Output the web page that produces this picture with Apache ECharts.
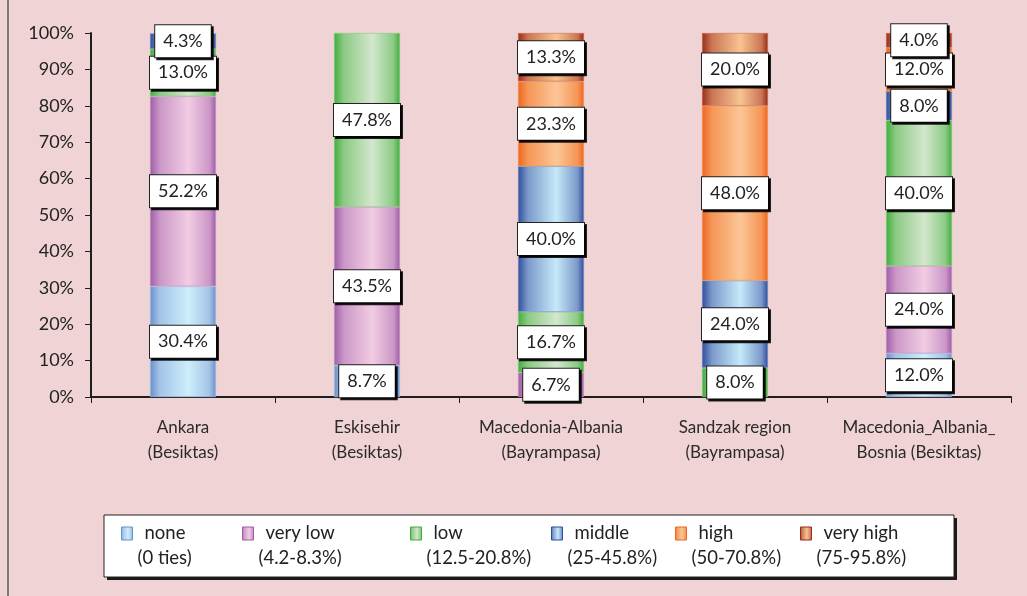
<!DOCTYPE html>
<html>
<head>
<meta charset="utf-8">
<script src="https://cdn.jsdelivr.net/npm/echarts@6/dist/echarts.min.js"></script>
<style>
html,body{margin:0;padding:0;background:#f0d3d5;}
#chart{width:1027px;height:596px;}
</style>
</head>
<body>
<div id="chart"></div>
<script>
// ---- data ----
const categories = [
  'Ankara\n(Besiktas)',
  'Eskisehir\n(Besiktas)',
  'Macedonia-Albania\n(Bayrampasa)',
  'Sandzak region\n(Bayrampasa)',
  'Macedonia_Albania_\nBosnia (Besiktas)'
];
const seriesNames = ['none', 'very low', 'low', 'middle', 'high', 'very high'];
const seriesRanges = ['(0 ties)', '(4.2-8.3%)', '(12.5-20.8%)', '(25-45.8%)', '(50-70.8%)', '(75-95.8%)'];
const none     = [30.4, 8.7, 0, 0, 12.0];
const veryLow  = [52.2, 43.5, 6.7, 0, 24.0];
const low      = [13.0, 47.8, 16.7, 8.0, 40.0];
const middle   = [4.3, 0, 40.0, 24.0, 8.0];
const high     = [0, 0, 23.3, 48.0, 12.0];
const veryHigh = [0, 0, 13.3, 20.0, 4.0];
const yTicks = [0, 10, 20, 30, 40, 50, 60, 70, 80, 90, 100];

// ---- styles ----
const seriesValues = [none, veryLow, low, middle, high, veryHigh];
const palette = [
  ['#6a8fcb', '#a3c4e7', '#cdeefb'],
  ['#9e5ea7', '#cb97c7', '#f2cce3'],
  ['#40ae3a', '#8cca85', '#d3e7cd'],
  ['#2f4c9c', '#7b99ca', '#c6e9f9'],
  ['#ee6620', '#f59656', '#fcc697'],
  ['#982c1b', '#ca7655', '#f8c391']
];
const FONT = 'Lato, Carlito, "Open Sans", sans-serif';
function grad(p) {
  return new echarts.graphic.LinearGradient(0, 0, 1, 0, [
    {offset: 0, color: p[0]},
    {offset: 0.15, color: p[1]},
    {offset: 0.58, color: p[2]},
    {offset: 0.9, color: p[1]},
    {offset: 1, color: p[0]}
  ]);
}

const chart = echarts.init(document.getElementById('chart'), null, {renderer: 'canvas'});
const legendLeft = [121, 242, 410, 551, 675, 800];

const option = {
  backgroundColor: '#f0d3d5',
  animation: false,
  grid: {left: 91, right: 16, top: 33, bottom: 199, containLabel: false},
  xAxis: {
    type: 'category',
    data: categories,
    axisLine: {show: true, lineStyle: {color: '#1e1e1e', width: 2}},
    axisTick: {show: true, length: 6, lineStyle: {color: '#1e1e1e', width: 1}},
    axisLabel: {color: '#2a2a2a', fontSize: 17, lineHeight: 25, margin: 18, fontFamily: FONT, interval: 0}
  },
  yAxis: {
    type: 'value',
    min: yTicks[0],
    max: yTicks[yTicks.length - 1],
    interval: yTicks[1] - yTicks[0],
    splitLine: {show: false},
    axisLine: {show: true, lineStyle: {color: '#1e1e1e', width: 2}},
    axisTick: {show: true, length: 6, lineStyle: {color: '#1e1e1e', width: 1}},
    axisLabel: {color: '#222', fontSize: 18, margin: 17, fontFamily: FONT, formatter: '{value}%'}
  },
  legend: seriesNames.map((n, i) => ({
    data: [n],
    left: legendLeft[i],
    top: 496,
    padding: 0,
    itemWidth: 11,
    itemHeight: 13,
    icon: 'rect',
    selectedMode: false,
    itemStyle: {borderColor: palette[i][0], borderWidth: 1},
    formatter: name => '{a|' + name + '}\n{b|' + seriesRanges[seriesNames.indexOf(name)] + '}',
    textStyle: {
      color: '#222', fontSize: 18.5, fontFamily: FONT, lineHeight: 25,
      padding: [25, 0, 0, 0],
      rich: {
        a: {fontSize: 18.5, fontFamily: FONT, color: '#222', lineHeight: 25, padding: [0, 0, 0, 7]},
        b: {fontSize: 18.5, fontFamily: FONT, color: '#222', lineHeight: 25}
      }
    }
  })),
  graphic: [
    {type: 'line', shape: {x1: 8, y1: 0, x2: 8, y2: 596}, style: {stroke: '#5a5a5a', lineWidth: 1.5}, silent: true},
    {type: 'rect', shape: {x: 107, y: 518, width: 850, height: 62}, style: {fill: '#1a1a1a'}, silent: true, z: -1},
    {type: 'rect', shape: {x: 104, y: 515, width: 850, height: 62}, style: {fill: '#ffffff', stroke: '#222', lineWidth: 1}, silent: true, z: 0}
  ],
  series: seriesNames.map((n, i) => ({
    name: n,
    type: 'bar',
    stack: 'total',
    barWidth: 66,
    data: seriesValues[i].map(v => (v === 0 ? null : v)),
    itemStyle: {color: grad(palette[i]), borderColor: palette[i][1], borderWidth: 0.6},
    label: {
      show: true,
      position: 'inside',
      formatter: p => p.value.toFixed(1) + '%',
      color: '#222',
      fontSize: 18,
      fontFamily: FONT,
      backgroundColor: '#ffffff',
      borderColor: '#222',
      borderWidth: 1,
      padding: [7, 8, 7, 8],
      shadowColor: 'rgba(0,0,0,0.85)',
      shadowOffsetX: 2,
      shadowOffsetY: 2,
      shadowBlur: 0
    }
  }))
};
chart.setOption(option);
</script>
</body>
</html>
